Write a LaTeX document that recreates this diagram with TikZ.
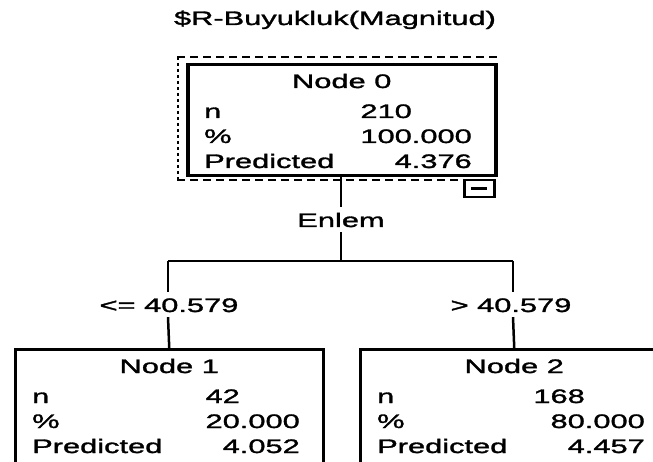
\documentclass[tikz,border=0pt]{standalone}
\usepackage{fontspec}
\setmainfont[FakeStretch=1.58,FakeBold=1.6]{Liberation Sans}
\begin{document}
\begin{tikzpicture}[x=1pt,y=-1pt,
  txt/.style={inner sep=0pt,font=\fontsize{19.5}{21}\selectfont},
  treebox/.style={draw,rectangle,inner sep=0pt,anchor=north west},
  edgelbl/.style={txt,anchor=base,text height=20pt,text depth=5pt},
  conn/.style={line width=2.5pt},
  selframe/.style={line width=2.5pt}]
\useasboundingbox (0,0) rectangle (653,462);
\clip (0,0) rectangle (653,462);
\newcommand\TreeNode[9]{%
  \node[treebox,line width=#5,minimum width=308pt,minimum height=#4] (#1) at (#2,#3) {};
  \node[txt,anchor=base] (#1-title) at ([shift={(0,25)}]#1.north) {#6};
  \node[txt,anchor=base west] (#1-nl) at ([shift={(18,55)}]#1.north west) {n};
  \node[txt,anchor=base east] (#1-nv) at ([shift={(286,55)}]#1.north west) {#7\phantom{.000}};
  \node[txt,anchor=base west] (#1-pl) at ([shift={(18,80)}]#1.north west) {\%};
  \node[txt,anchor=base east] (#1-pv) at ([shift={(286,80)}]#1.north west) {#8};
  \node[txt,anchor=base west] (#1-ql) at ([shift={(18,105)}]#1.north west) {Predicted};
  \node[txt,anchor=base east] (#1-qv) at ([shift={(286,105)}]#1.north west) {#9};
}
% title
\node[txt,anchor=base] (title) at (335,25) {\$R-Buyukluk(Magnitud)};
% nodes
\TreeNode{n0}{186}{63}{111pt}{3.5pt}{Node 0}{210}{100.000}{4.376}
\TreeNode{n1}{14}{348}{150pt}{2.5pt}{Node 1}{42}{20.000}{4.052}
\TreeNode{n2}{359}{348}{150pt}{2.5pt}{Node 2}{168}{80.000}{4.457}
% selection frame around node 0
\draw[selframe,dash pattern=on 8pt off 5pt] (177,57) -- (497,57);
\draw[selframe,dash pattern=on 8pt off 5pt] (177,180) -- (462,180);
\draw[selframe,dash pattern=on 3pt off 3pt] (178,57) -- (178,180);
% collapse marker
\node[draw,line width=2.5pt,minimum width=30pt,minimum height=17pt,inner sep=0pt,anchor=north west] (mark) at (463,179) {};
\draw[line width=2.5pt] ([xshift=-8pt]mark.center) -- ([xshift=8pt]mark.center);
% split label and connectors
\node[edgelbl] (enlem) at (341,227) {Enlem};
\coordinate (split) at (341,261);
\coordinate (lft) at (168,261);
\coordinate (rgt) at (513,261);
\node[edgelbl] (lbl1) at (169,312) {<= 40.579};
\node[edgelbl] (lbl2) at (511,312) {> 40.579};
\draw[conn] (n0.south -| enlem) -- (enlem.north);
\draw[conn] (enlem.south) -- (split);
\draw[conn] (lft) -- (rgt);
\draw[conn] (lft) -- (lft |- lbl1.north);
\draw[conn] (lft |- lbl1.south) -- (n1.north);
\draw[conn] (rgt) -- (rgt |- lbl2.north);
\draw[conn] (rgt |- lbl2.south) -- (n2.north);
\end{tikzpicture}
\end{document}
